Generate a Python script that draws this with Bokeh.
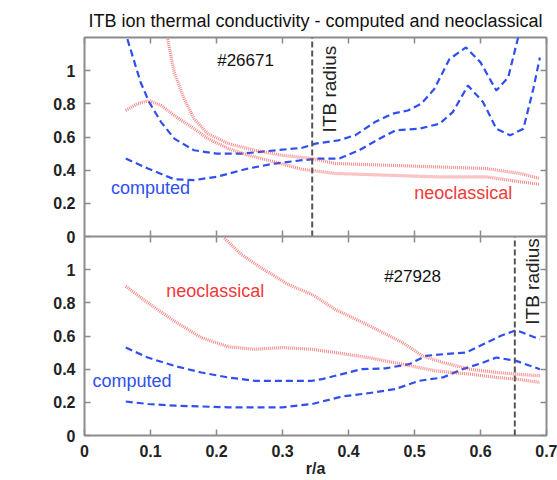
from math import pi
from bokeh.plotting import figure
from bokeh.models import Range1d, LinearAxis, FixedTicker, Label, Span
from bokeh.embed import file_html
from bokeh.resources import INLINE

# ---------------- data ----------------
x_ticks = [0, 0.1, 0.2, 0.3, 0.4, 0.5, 0.6, 0.7]
x_tick_labels = ["0", "0.1", "0.2", "0.3", "0.4", "0.5", "0.6", "0.7"]
y_ticks = [0, 0.2, 0.4, 0.6, 0.8, 1.0]
y_tick_labels = ["0", "0.2", "0.4", "0.6", "0.8", "1"]

# shot #26671 (upper panel)
top_comp1_x = [0.065, 0.085, 0.098, 0.116, 0.136, 0.166, 0.2, 0.24, 0.29, 0.33, 0.35, 0.385, 0.41, 0.44, 0.466, 0.49, 0.51, 0.53, 0.553, 0.578, 0.60, 0.624, 0.642, 0.657]
top_comp1_y = [1.19, 0.93, 0.81, 0.69, 0.59, 0.52, 0.50, 0.50, 0.52, 0.535, 0.56, 0.58, 0.61, 0.69, 0.74, 0.76, 0.80, 0.89, 1.07, 1.14, 1.05, 0.88, 0.96, 1.20]
top_comp2_x = [0.0625, 0.096, 0.136, 0.166, 0.2, 0.248, 0.288, 0.33, 0.355, 0.386, 0.416, 0.447, 0.471, 0.507, 0.538, 0.558, 0.581, 0.604, 0.624, 0.645, 0.665, 0.68, 0.69]
top_comp2_y = [0.47, 0.41, 0.345, 0.34, 0.36, 0.41, 0.44, 0.46, 0.47, 0.47, 0.52, 0.59, 0.64, 0.65, 0.68, 0.75, 0.91, 0.81, 0.65, 0.61, 0.65, 0.89, 1.08]
top_neo1_x = [0.126, 0.136, 0.151, 0.166, 0.187, 0.218, 0.258, 0.299, 0.345, 0.38, 0.456, 0.532, 0.608, 0.66, 0.69]
top_neo1_y = [1.19, 0.99, 0.83, 0.71, 0.62, 0.56, 0.52, 0.49, 0.47, 0.44, 0.43, 0.42, 0.41, 0.38, 0.35]
top_neo2_x = [0.0625, 0.08, 0.098, 0.116, 0.136, 0.166, 0.187, 0.218, 0.248, 0.288, 0.33, 0.38, 0.456, 0.532, 0.608, 0.66, 0.69]
top_neo2_y = [0.76, 0.80, 0.82, 0.79, 0.73, 0.65, 0.59, 0.53, 0.49, 0.45, 0.405, 0.38, 0.37, 0.36, 0.36, 0.33, 0.315]
top_itb = 0.345

# shot #27928 (lower panel)
bot_comp1_x = [0.0625, 0.096, 0.136, 0.177, 0.218, 0.258, 0.3, 0.345, 0.36, 0.39, 0.42, 0.456, 0.492, 0.517, 0.543, 0.578, 0.604, 0.63, 0.654, 0.69]
bot_comp1_y = [0.53, 0.47, 0.42, 0.38, 0.35, 0.33, 0.33, 0.33, 0.34, 0.37, 0.40, 0.405, 0.43, 0.48, 0.49, 0.50, 0.55, 0.60, 0.635, 0.58]
bot_comp2_x = [0.0625, 0.096, 0.136, 0.218, 0.3, 0.345, 0.36, 0.39, 0.43, 0.471, 0.507, 0.543, 0.573, 0.604, 0.624, 0.654, 0.69]
bot_comp2_y = [0.205, 0.19, 0.18, 0.17, 0.17, 0.19, 0.205, 0.235, 0.255, 0.28, 0.33, 0.35, 0.40, 0.44, 0.47, 0.45, 0.40]
bot_neo1_x = [0.212, 0.238, 0.268, 0.309, 0.345, 0.38, 0.43, 0.482, 0.512, 0.543, 0.584, 0.624, 0.654, 0.69]
bot_neo1_y = [1.19, 1.09, 1.01, 0.91, 0.85, 0.76, 0.665, 0.56, 0.48, 0.44, 0.40, 0.38, 0.37, 0.36]
bot_neo2_x = [0.0625, 0.096, 0.136, 0.177, 0.218, 0.258, 0.3, 0.345, 0.38, 0.43, 0.482, 0.532, 0.584, 0.624, 0.654, 0.69]
bot_neo2_y = [0.90, 0.80, 0.69, 0.59, 0.535, 0.52, 0.53, 0.52, 0.50, 0.47, 0.43, 0.39, 0.37, 0.35, 0.34, 0.32]
bot_itb = 0.652

# ---------------- layout / style ----------------
PANEL = 1.2
FONT = "Liberation Sans"
BLUE = "#2f4ff0"
RED = "#f03a3a"
FRAME = "#8c8c8c"

p = figure(width=557, height=480, x_range=Range1d(0, 0.7), y_range=Range1d(0, 2 * PANEL),
           output_backend="svg", toolbar_location=None,
           x_axis_location=None, y_axis_location=None,
           min_border_left=84, min_border_right=11, min_border_top=37, min_border_bottom=45)
p.extra_y_ranges = {"top": Range1d(-PANEL, PANEL)}
p.grid.grid_line_color = None
p.outline_line_color = FRAME
p.outline_line_width = 2
p.background_fill_color = "white"
p.border_fill_color = "white"

p.title.text = "ITB ion thermal conductivity - computed and neoclassical"
p.title.text_font = FONT
p.title.text_font_size = "18px"
p.title.text_font_style = "normal"
p.title.text_color = "#111111"
p.title.align = "center"
p.title.standoff = 14

left_ticks = list(y_ticks) + [round(v + PANEL, 6) for v in y_ticks]
left_labels = {t: l for t, l in zip(left_ticks, y_tick_labels + y_tick_labels)}
x_labels = {t: l for t, l in zip(x_ticks, x_tick_labels)}


def style_axis(ax, show_labels):
    ax.axis_line_color = None
    ax.major_tick_in = 6
    ax.major_tick_out = 0
    ax.major_tick_line_color = FRAME
    ax.major_tick_line_width = 1.5
    ax.minor_tick_line_color = None
    if show_labels:
        ax.major_label_text_font = FONT
        ax.major_label_text_font_size = "16px"
        ax.major_label_text_font_style = "bold"
        ax.major_label_text_color = "#222222"
    else:
        ax.major_label_text_font_size = "1px"
        ax.major_label_text_color = None
        ax.major_label_standoff = 0


ax_l = LinearAxis(ticker=FixedTicker(ticks=left_ticks), major_label_overrides=left_labels)
style_axis(ax_l, True)
ax_l.major_label_standoff = 9
p.add_layout(ax_l, "left")

ax_r = LinearAxis(ticker=FixedTicker(ticks=left_ticks))
style_axis(ax_r, False)
p.add_layout(ax_r, "right")

ax_b = LinearAxis(ticker=FixedTicker(ticks=x_ticks), major_label_overrides=x_labels,
                  axis_label="r/a")
style_axis(ax_b, True)
ax_b.major_label_standoff = 9
ax_b.axis_label_text_font = FONT
ax_b.axis_label_text_font_size = "16px"
ax_b.axis_label_text_font_style = "bold"
ax_b.axis_label_text_color = "#222222"
ax_b.axis_label_standoff = 0
p.add_layout(ax_b, "below")

ax_t = LinearAxis(ticker=FixedTicker(ticks=x_ticks))
style_axis(ax_t, False)
p.add_layout(ax_t, "above")

# separator between panels with its ticks
p.add_layout(Span(location=PANEL, dimension="width", line_color=FRAME, line_width=2))
inner = x_ticks[1:-1]
p.segment(x0=inner, x1=inner, y0=[PANEL - 0.036] * len(inner), y1=[PANEL + 0.036] * len(inner),
          line_color=FRAME, line_width=1.5)

blue_kw = dict(line_color=BLUE, line_width=2.2, line_dash="7 4")
red_kw = dict(line_color=RED, line_width=3.2, line_dash="1 1", line_alpha=0.6)

# upper panel
p.line(top_comp1_x, top_comp1_y, y_range_name="top", **blue_kw)
p.line(top_comp2_x, top_comp2_y, y_range_name="top", **blue_kw)
p.line(top_neo1_x, top_neo1_y, y_range_name="top", **red_kw)
p.line(top_neo2_x, top_neo2_y, y_range_name="top", **red_kw)
p.line([top_itb, top_itb], [0, PANEL], y_range_name="top", line_color="#555555", line_width=2, line_dash="6 3")

# lower panel
p.line(bot_comp1_x, bot_comp1_y, **blue_kw)
p.line(bot_comp2_x, bot_comp2_y, **blue_kw)
p.line(bot_neo1_x, bot_neo1_y, **red_kw)
p.line(bot_neo2_x, bot_neo2_y, **red_kw)
p.line([bot_itb, bot_itb], [0, PANEL], line_color="#555555", line_width=2, line_dash="6 3")


def txt(x, y, s, color, rng=None, size="17px"):
    kw = dict(x=x, y=y, text=s, text_color=color, text_font=FONT, text_font_size=size,
              text_align="center", text_baseline="middle")
    if rng:
        kw["y_range_name"] = rng
    p.add_layout(Label(**kw))


txt(0.244, 1.06, "#26671", "#111111", "top")
txt(0.100, 0.29, "computed", BLUE, "top", "18px")
txt(0.574, 0.265, "neoclassical", RED, "top", "18px")
txt(0.497, 0.96, "#27928", "#111111")
txt(0.072, 0.33, "computed", BLUE, None, "18px")
txt(0.198, 0.87, "neoclassical", RED, None, "18px")

for xv, yv, rng in [(top_itb, 1.15, "top"), (bot_itb, 1.19, None)]:
    kw = dict(x=xv, y=yv, x_offset=7, text="ITB radius", angle=pi / 2, text_color="#222222",
              text_font=FONT, text_font_size="19px", text_align="right", text_baseline="top")
    if rng:
        kw["y_range_name"] = rng
    p.add_layout(Label(**kw))

for yv, rng in [(0.63, "top"), (0.6, None)]:
    kw = dict(x=-0.088, y=yv, text="χᵢ [m²/s]", angle=pi / 2, text_color="#222222",
              text_font=FONT, text_font_size="16px", text_align="center", text_baseline="middle")
    if rng:
        kw["y_range_name"] = rng
    p.add_layout(Label(**kw))

open("out.html", "w").write(file_html(p, INLINE))
